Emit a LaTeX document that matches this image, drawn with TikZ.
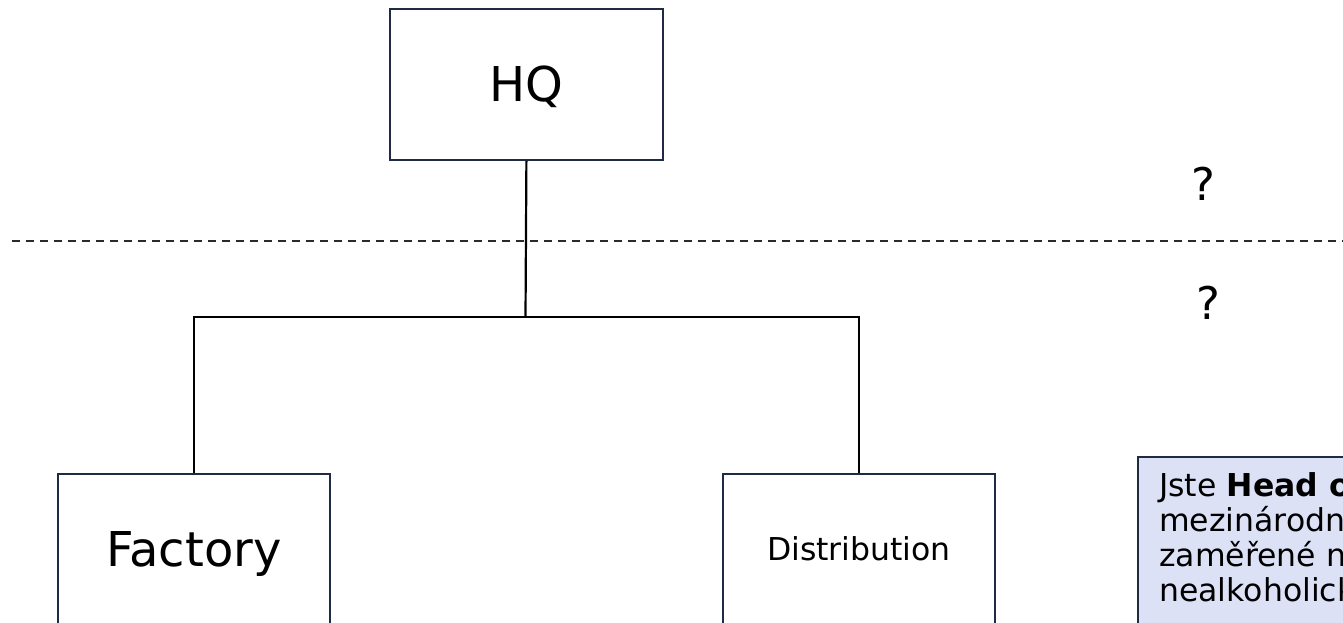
\documentclass[tikz,border=0pt]{standalone}
\usepackage{fontspec}
\setmainfont{DejaVu Sans}
\definecolor{boxline}{HTML}{1F2A44}
\definecolor{notefill}{HTML}{DCE1F5}
\definecolor{dashcol}{HTML}{2A2A2A}
\begin{document}
\begin{tikzpicture}[x=1pt,y=-1pt,
  orgbox/.style={draw=boxline, line width=1.8pt, fill=white, inner sep=0pt,
    minimum width=272pt, minimum height=151pt, anchor=north west, text depth=0pt},
  conn/.style={draw=black, line width=2.2pt},
  sep/.style={draw=dashcol, line width=2pt, dash pattern=on 8pt off 6pt},
  qmark/.style={font=\fontsize{45}{50}\selectfont, inner sep=0pt},
  notebox/.style={draw=boxline, line width=1.8pt, fill=notefill, inner sep=0pt,
    minimum width=260pt, minimum height=220pt, anchor=north west},
  notetext/.style={font=\fontsize{31.5}{35}\selectfont, inner sep=0pt, anchor=base west}]
\useasboundingbox (0,0) rectangle (1343,623);
\clip (0,0) rectangle (1343,623);
\fill[white] (0,0) rectangle (1343,623);
% dashed separator
\coordinate (dl) at (12,241);
\coordinate (dr) at (1343,241);
\draw[sep] (dl) -- (dr);
% boxes
\node[orgbox, minimum width=273pt, text height=35pt, font=\fontsize{48}{56}\selectfont] (hq) at (389,8) {HQ};
\node[orgbox, text height=35pt, font=\fontsize{48}{56}\selectfont] (fac) at (57,473) {Factory};
\node[orgbox, text height=23pt, text depth=-7pt, font=\fontsize{31.5}{38}\selectfont] (dist) at (722,473) {Distribution};
% connectors
\coordinate (j) at (525.5,317);
\draw[conn] (hq.south) -- (j);
\draw[conn] (fac.north) -- (fac.north |- j) -- (dist.north |- j) -- (dist.north);
% question marks
\node[qmark] (q1) at (1203,184) {?};
\node[qmark] (q2) at (1208,303) {?};
% note box
\node[notebox] (note) at (1137,456) {};
\node[notetext] (l1) at (1159,496) {Jste \textbf{Head of}};
\node[notetext] (l2) at (1159,531) {mezinárodní};
\node[notetext] (l3) at (1159,566) {zaměřené na};
\node[notetext] (l4) at (1159,601) {nealkoholických};
\end{tikzpicture}
\end{document}
